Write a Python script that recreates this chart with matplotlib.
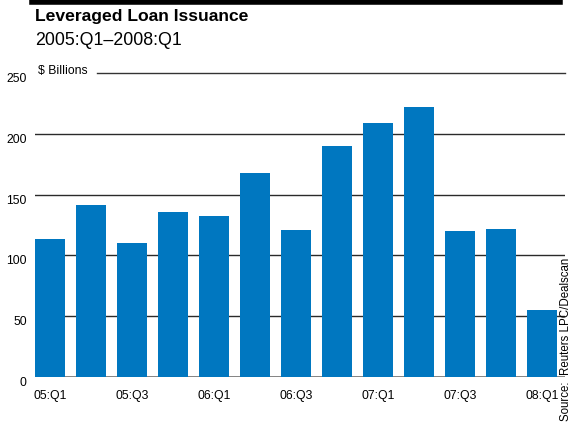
import matplotlib
matplotlib.use("Agg")
import matplotlib.pyplot as plt
import numpy as np

plt.rcParams['font.family'] = ['Liberation Sans', 'DejaVu Sans']

quarters = ["05:Q1", "05:Q2", "05:Q3", "05:Q4", "06:Q1", "06:Q2", "06:Q3",
            "06:Q4", "07:Q1", "07:Q2", "07:Q3", "07:Q4", "08:Q1"]
issuance = [113, 141, 110, 136, 132, 168, 121, 190, 209, 222, 120, 122, 55]
yticks = [0, 50, 100, 150, 200, 250]
xlabel_every = 2

W, H = 573, 424
fig = plt.figure(figsize=(W / 100, H / 100), dpi=100)

ax_left, ax_right = 35 / W, 565 / W
ax_bottom, ax_top = 1 - 376.5 / H, 1 - 73.3 / H
ax = fig.add_axes([ax_left, ax_bottom, ax_right - ax_left, ax_top - ax_bottom])

x = np.arange(len(quarters))
ax.bar(x, issuance, width=0.73, color="#0077c0", zorder=3)

ax.set_xlim(-0.365, len(quarters) - 1 + 0.56)
ax.set_ylim(0, 250)

# horizontal rules
for v in yticks:
    if v == 0:
        ax.axhline(v, color="#7a7a7a", lw=1.3, zorder=2)
    elif v == 250:
        ax.axhline(v, xmin=0.117, xmax=1, color="#333333", lw=1.0, zorder=2, clip_on=False)
    else:
        ax.axhline(v, color="#2a2a2a", lw=1.0, zorder=2)

for s in ax.spines.values():
    s.set_visible(False)

ax.set_yticks(yticks)
ax.set_yticklabels([str(v) for v in yticks], fontsize=8.8)
ax.tick_params(axis="y", length=0, pad=6)
for lbl in ax.get_yticklabels():
    lbl.set_verticalalignment("top")
ax.set_xticks(x[::xlabel_every])
ax.set_xticklabels(quarters[::xlabel_every], fontsize=8.8)
ax.tick_params(axis="x", length=0, pad=10)

ax.text(38 / W, 1 - 71 / H, "$ Billions", transform=fig.transFigure,
        fontsize=8.8, ha="left", va="center")

# top black band
fig.add_artist(plt.Line2D([32 / W, 560 / W], [1 - 2 / H, 1 - 2 / H],
                          color="black", lw=4, transform=fig.transFigure))

fig.text(35 / W, 1 - 8.5 / H, "Leveraged Loan Issuance", fontsize=12.6,
         fontweight="bold", ha="left", va="top")
fig.text(35 / W, 1 - 32 / H, "2005:Q1\u20132008:Q1", fontsize=12.8,
         ha="left", va="top")

fig.text(566 / W, 1 - 258 / H, "Source:  Reuters LPC/Dealscan", fontsize=8.3,
         rotation=90, ha="center", va="top")

fig.savefig("out.png", dpi=100)
